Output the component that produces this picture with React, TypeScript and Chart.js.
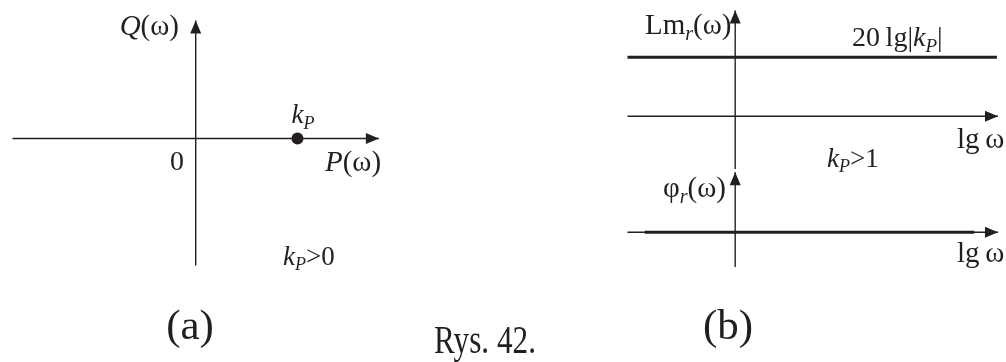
import { useEffect, useRef } from "react";
import { Chart, registerables } from "chart.js";

Chart.register(...registerables);

const W = 1006;
const H = 362;

// ---- Panel (a): amplitude-phase characteristic of a proportional element ----
const kP = 2; // gain of the element, kP > 1
const pAxis = [-3.6, 3.6]; // P(ω) axis extent
const qAxis = [-2.55, 2.37]; // Q(ω) axis extent
const nyquistPoints = [{ x: kP, y: 0 }];

// ---- Panel (b): logarithmic characteristics ----
const lgOmegaAxis = [-1, 2.44]; // lg ω axis extent (decades)
const lmLineSpan = [-1, 2.43]; // extent of the Lm line
const phaseLineSpan = [-0.84, 2.22]; // extent of the φ line
const lmValue = 20 * Math.log10(Math.abs(kP)); // 20 lg|kP| [dB]
const phaseValue = 0; // φ(ω) = 0 for all ω
const lmAxis = [-5.4, 10.8]; // Lm vertical axis extent [dB]
const phaseAxis = [-52, 90]; // φ vertical axis extent [deg]

// ---- layout of the scales on the canvas (origin pixel and pixels per unit) ----
const A_ORIGIN_X = 192;
const A_ORIGIN_Y = 137;
const A_PPU = 51.5;
const B_ORIGIN_X = 738;
const B_PPU_X = 109;
const LM_ORIGIN_Y = 114;
const LM_PPU = 10.13;
const PH_ORIGIN_Y = 234;
const PH_PPU = 0.689;

const INK = "#231f20";
const SERIF = "'Liberation Serif', 'Times New Roman', serif";

function xRange(origin: number, ppu: number) {
  return { min: -origin / ppu, max: (W - origin) / ppu };
}
function yRange(origin: number, ppu: number) {
  return { min: (origin - H) / ppu, max: origin / ppu };
}

type Run = { t: string; it?: boolean; sub?: boolean };
type Label = {
  runs: Run[];
  x: number;
  y: number;
  size: number;
  align?: number; // 0 left, 0.5 centre, 1 right
  maxWidth?: number;
  anchor?: { xScale: string; yScale: string; vx: number; vy: number };
};

const labels: Label[] = [
  { runs: [{ t: "Q", it: true }, { t: "(ω)" }], x: 179, y: 35, size: 29, align: 1 },
  { runs: [{ t: "0" }], x: 184, y: 170, size: 28, align: 1 },
  { runs: [{ t: "P", it: true }, { t: "(ω)" }], x: 325, y: 171, size: 29 },
  {
    runs: [{ t: "k", it: true }, { t: "P", it: true, sub: true }],
    x: -6, y: -15, size: 27,
    anchor: { xScale: "xA", yScale: "yA", vx: kP, vy: 0 },
  },
  { runs: [{ t: "k", it: true }, { t: "P", it: true, sub: true }, { t: ">0" }], x: 283, y: 265, size: 27 },
  { runs: [{ t: "Lm" }, { t: "r", it: true, sub: true }, { t: "(ω)" }], x: 645, y: 34, size: 29 },
  {
    runs: [{ t: "20\u2009lg|" }, { t: "k", it: true }, { t: "P", it: true, sub: true }, { t: "|" }],
    x: 852, y: -11, size: 28,
    anchor: { xScale: "xB", yScale: "yLm", vx: 0, vy: lmValue },
  },
  { runs: [{ t: "lg\u2009ω" }], x: 957, y: 148, size: 29 },
  { runs: [{ t: "k", it: true }, { t: "P", it: true, sub: true }, { t: ">1" }], x: 827, y: 167, size: 27 },
  { runs: [{ t: "φ" }, { t: "r", it: true, sub: true }, { t: "(ω)" }], x: 663, y: 197, size: 29 },
  { runs: [{ t: "lg\u2009ω" }], x: 957, y: 262, size: 29 },
  { runs: [{ t: "(a)" }], x: 190, y: 339, size: 43, align: 0.5 },
  { runs: [{ t: "Rys. 42." }], x: 485, y: 353, size: 41, align: 0.5, maxWidth: 102 },
  { runs: [{ t: "(b)" }], x: 728, y: 339, size: 43, align: 0.5 },
];

function runFont(r: Run, size: number) {
  const s = r.sub ? Math.round(size * 0.68) : size;
  return `${r.it ? "italic " : ""}${s}px ${SERIF}`;
}

const textPlugin = {
  id: "richLabels",
  afterDraw(chart: any) {
    const ctx: CanvasRenderingContext2D = chart.ctx;
    ctx.save();
    ctx.fillStyle = INK;
    ctx.textBaseline = "alphabetic";
    ctx.textAlign = "left";
    for (const lab of labels) {
      let x = lab.x;
      let y = lab.y;
      if (lab.anchor) {
        const px = chart.scales[lab.anchor.xScale].getPixelForValue(lab.anchor.vx);
        const py = chart.scales[lab.anchor.yScale].getPixelForValue(lab.anchor.vy);
        x = lab.anchor.xScale === "xB" ? lab.x : px + lab.x;
        y = py + lab.y;
      }
      const widths = lab.runs.map((r) => {
        ctx.font = runFont(r, lab.size);
        return ctx.measureText(r.t).width;
      });
      let total = widths.reduce((a, b) => a + b, 0);
      let sx = 1;
      if (lab.maxWidth && total > lab.maxWidth) {
        sx = lab.maxWidth / total;
        total = lab.maxWidth;
      }
      let cx = x - total * (lab.align ?? 0);
      lab.runs.forEach((r, i) => {
        ctx.font = runFont(r, lab.size);
        const dy = r.sub ? lab.size * 0.2 : 0;
        ctx.fillText(r.t, cx, y + dy, widths[i] * sx);
        cx += widths[i] * sx;
      });
    }
    ctx.restore();
  },
};

const arrowPlugin = {
  id: "arrowHeads",
  afterDatasetsDraw(chart: any) {
    const ctx: CanvasRenderingContext2D = chart.ctx;
    chart.data.datasets.forEach((ds: any, i: number) => {
      if (!ds.arrow) return;
      const pts = chart.getDatasetMeta(i).data;
      const a = pts[pts.length - 2];
      const b = pts[pts.length - 1];
      const ang = Math.atan2(b.y - a.y, b.x - a.x);
      const len = 13;
      const hw = 5.5;
      ctx.save();
      ctx.translate(b.x, b.y);
      ctx.rotate(ang);
      ctx.beginPath();
      ctx.moveTo(0, 0);
      ctx.lineTo(-len, -hw);
      ctx.lineTo(-len, hw);
      ctx.closePath();
      ctx.fillStyle = INK;
      ctx.fill();
      ctx.restore();
    });
  },
};

function line(
  pts: { x: number; y: number }[],
  xAxisID: string,
  yAxisID: string,
  width: number,
  arrow = false
) {
  return {
    data: pts,
    xAxisID,
    yAxisID,
    showLine: true,
    borderColor: INK,
    backgroundColor: INK,
    borderWidth: width,
    pointRadius: 0,
    pointHoverRadius: 0,
    fill: false,
    tension: 0,
    arrow,
  };
}

export default function App() {
  const ref = useRef<HTMLCanvasElement>(null);

  useEffect(() => {
    if (!ref.current) return;
    const datasets: any[] = [
      // panel (a)
      line([{ x: pAxis[0], y: 0 }, { x: pAxis[1], y: 0 }], "xA", "yA", 1.4, true),
      line([{ x: 0, y: qAxis[0] }, { x: 0, y: qAxis[1] }], "xA", "yA", 1.4, true),
      {
        data: nyquistPoints,
        xAxisID: "xA",
        yAxisID: "yA",
        showLine: false,
        pointRadius: 6,
        pointBackgroundColor: INK,
        pointBorderColor: INK,
        pointBorderWidth: 0,
      },
      // panel (b) — magnitude
      line([{ x: lgOmegaAxis[0], y: 0 }, { x: lgOmegaAxis[1], y: 0 }], "xB", "yLm", 1.4, true),
      line([{ x: 0, y: lmAxis[0] }, { x: 0, y: lmAxis[1] }], "xB", "yLm", 1.4, true),
      line([{ x: lmLineSpan[0], y: lmValue }, { x: lmLineSpan[1], y: lmValue }], "xB", "yLm", 3),
      // panel (b) — phase
      line([{ x: lgOmegaAxis[0], y: 0 }, { x: lgOmegaAxis[1], y: 0 }], "xB", "yPh", 1.4, true),
      line([{ x: 0, y: phaseAxis[0] }, { x: 0, y: phaseAxis[1] }], "xB", "yPh", 1.4, true),
      line([{ x: phaseLineSpan[0], y: phaseValue }, { x: phaseLineSpan[1], y: phaseValue }], "xB", "yPh", 3),
    ];

    const chart = new Chart(ref.current, {
      type: "scatter",
      data: { datasets },
      options: {
        animation: false,
        responsive: false,
        devicePixelRatio: 1,
        layout: { padding: 0 },
        events: [],
        plugins: { legend: { display: false }, tooltip: { enabled: false }, title: { display: false } },
        scales: {
          xA: { type: "linear", display: false, ...xRange(A_ORIGIN_X, A_PPU) },
          yA: { type: "linear", display: false, ...yRange(A_ORIGIN_Y, A_PPU) },
          xB: { type: "linear", display: false, ...xRange(B_ORIGIN_X, B_PPU_X) },
          yLm: { type: "linear", display: false, ...yRange(LM_ORIGIN_Y, LM_PPU) },
          yPh: { type: "linear", display: false, ...yRange(PH_ORIGIN_Y, PH_PPU) },
        },
      } as any,
      plugins: [arrowPlugin, textPlugin],
    });
    return () => chart.destroy();
  }, []);

  return (
    <div style={{ position: "fixed", left: 0, top: 0, width: W, height: H, background: "#fff" }}>
      <canvas ref={ref} width={W} height={H} style={{ display: "block" }} />
    </div>
  );
}
